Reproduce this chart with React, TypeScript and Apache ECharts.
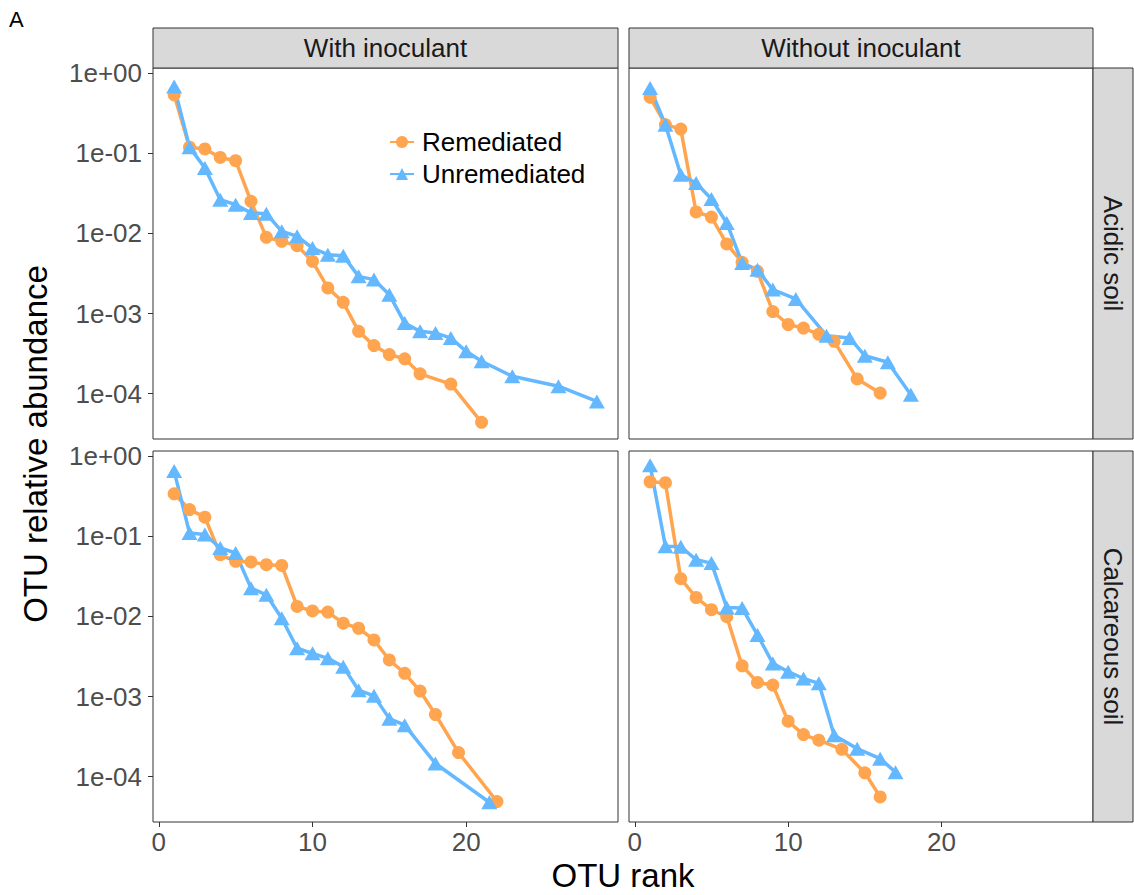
import React, { useEffect, useRef } from "react";
import * as echarts from "echarts";

// ---- Data (OTU rank, relative abundance) ----
const seriesNames = ["Remediated", "Unremediated"];
const colTitles = ["With inoculant", "Without inoculant"];
const rowTitles = ["Acidic soil", "Calcareous soil"];
const xTicks = [0, 10, 20];
const yTickExponents = [-4, -3, -2, -1, 0];

// Acidic soil, with inoculant
const acidWithRemRank = [1, 2, 3, 4, 5, 6, 7, 8, 9, 10, 11, 12, 13, 14, 15, 16, 17, 19, 21];
const acidWithRemAbund = [0.536, 0.119, 0.113, 0.0886, 0.0806, 0.0251, 0.00892, 0.00795, 0.00703, 0.00448, 0.00209, 0.00138, 0.0006, 0.000398, 0.000308, 0.000272, 0.000177, 0.000132, 0.000044];
const acidWithUnrRank = [1, 2, 3, 4, 5, 6, 7, 8, 9, 10, 11, 12, 13, 14, 15, 16, 17, 18, 19, 20, 21, 23, 26, 28.5];
const acidWithUnrAbund = [0.68, 0.119, 0.0653, 0.0263, 0.0228, 0.018, 0.0176, 0.0106, 0.0092, 0.00657, 0.00542, 0.00527, 0.00291, 0.00265, 0.00172, 0.00076, 0.0006, 0.00057, 0.000496, 0.000338, 0.000254, 0.000165, 0.000124, 0.00008];

// Acidic soil, without inoculant
const acidWithoutRemRank = [1, 2, 3, 4, 5, 6, 7, 8, 9, 10, 11, 12, 13, 14.5, 16];
const acidWithoutRemAbund = [0.5, 0.227, 0.2, 0.0185, 0.016, 0.00738, 0.00435, 0.00336, 0.00106, 0.00073, 0.00066, 0.00055, 0.00045, 0.000153, 0.000102];
const acidWithoutUnrRank = [1, 2, 3, 4, 5, 6, 7, 8, 9, 10.5, 12.5, 14, 15, 16.5, 18];
const acidWithoutUnrAbund = [0.65, 0.227, 0.054, 0.0425, 0.0268, 0.0135, 0.00428, 0.00352, 0.00199, 0.00152, 0.00053, 0.000496, 0.000298, 0.000247, 0.000097];

// Calcareous soil, with inoculant
const calcWithRemRank = [1, 2, 3, 4, 5, 6, 7, 8, 9, 10, 11, 12, 13, 14, 15, 16, 17, 18, 19.5, 22];
const calcWithRemAbund = [0.338, 0.215, 0.173, 0.0589, 0.0486, 0.0477, 0.0441, 0.0432, 0.0133, 0.0117, 0.0113, 0.00822, 0.00711, 0.00508, 0.00286, 0.00195, 0.00117, 0.000597, 0.0002, 0.000049];
const calcWithUnrRank = [1, 2, 3, 4, 5, 6, 7, 8, 9, 10, 11, 12, 13, 14, 15, 16, 18, 21.5];
const calcWithUnrAbund = [0.65, 0.11, 0.105, 0.0713, 0.0618, 0.0225, 0.0186, 0.00948, 0.004, 0.00346, 0.003, 0.00236, 0.0012, 0.00102, 0.00053, 0.000439, 0.000146, 0.000048];

// Calcareous soil, without inoculant
const calcWithoutRemRank = [1, 2, 3, 4, 5, 6, 7, 8, 9, 10, 11, 12, 13.5, 15, 16];
const calcWithoutRemAbund = [0.478, 0.465, 0.0295, 0.0172, 0.0121, 0.0099, 0.00242, 0.0015, 0.00139, 0.000492, 0.000335, 0.000285, 0.00022, 0.000112, 0.000056];
const calcWithoutUnrRank = [1, 2, 3, 4, 5, 6, 7, 8, 9, 10, 11, 12, 13, 14.5, 16, 17];
const calcWithoutUnrAbund = [0.77, 0.0748, 0.074, 0.0509, 0.0462, 0.0129, 0.0127, 0.00587, 0.00259, 0.00204, 0.00168, 0.00146, 0.000329, 0.000224, 0.000168, 0.000114];

const panels = [
  { rem: [acidWithRemRank, acidWithRemAbund], unr: [acidWithUnrRank, acidWithUnrAbund] },
  { rem: [acidWithoutRemRank, acidWithoutRemAbund], unr: [acidWithoutUnrRank, acidWithoutUnrAbund] },
  { rem: [calcWithRemRank, calcWithRemAbund], unr: [calcWithUnrRank, calcWithUnrAbund] },
  { rem: [calcWithoutRemRank, calcWithoutRemAbund], unr: [calcWithoutUnrRank, calcWithoutUnrAbund] },
];

// ---- Layout / style ----
const ORANGE = "#FFA54F";
const BLUE = "#63B8FF";
const FONT = "'Liberation Sans', Arial, Helvetica, sans-serif";
const colLeft = [153, 629];
const colWidth = [465, 464];
const rowTop = [68, 451];
const rowHeight = 371;
const X_MIN = -0.375;
const X_MAX = 29.875;
const Y_MIN = -4.565;
const Y_MAX = 0.063;

function fmtExp(v: number) {
  const e = Math.round(v);
  const sign = e < 0 ? "-" : "+";
  return "1e" + sign + String(Math.abs(e)).padStart(2, "0");
}

export default function App() {
  const ref = useRef<HTMLDivElement>(null);
  useEffect(() => {
    document.body.style.margin = "0";
    if (!ref.current) return;
    const chart = echarts.init(ref.current, null, { renderer: "svg" });

    const grids: any[] = [];
    const xAxes: any[] = [];
    const yAxes: any[] = [];
    const series: any[] = [];
    panels.forEach((p, i) => {
      const r = Math.floor(i / 2);
      const c = i % 2;
      const bottom = r === 1;
      const left = c === 0;
      grids.push({
        left: colLeft[c],
        top: rowTop[r],
        width: colWidth[c],
        height: rowHeight,
        show: true,
        backgroundColor: "#fff",
        borderColor: "#333333",
        borderWidth: 1,
        containLabel: false,
      });
      xAxes.push({
        type: "value",
        gridIndex: i,
        position: "bottom",
        min: X_MIN,
        max: X_MAX,
        axisLine: { show: false, onZero: false },
        splitLine: { show: false },
        axisTick: { show: bottom, length: 5, lineStyle: { color: "#333333", width: 1 }, customValues: xTicks },
        axisLabel: { show: bottom, customValues: xTicks, fontSize: 26, color: "#4D4D4D", margin: 7, fontFamily: FONT },
      });
      yAxes.push({
        type: "value",
        gridIndex: i,
        position: "left",
        min: Y_MIN,
        max: Y_MAX,
        axisLine: { show: false, onZero: false },
        splitLine: { show: false },
        axisTick: { show: left, length: 5, lineStyle: { color: "#333333", width: 1 }, customValues: yTickExponents },
        axisLabel: {
          show: left,
          customValues: yTickExponents,
          fontSize: 26,
          color: "#4D4D4D",
          margin: 11,
          fontFamily: FONT,
          formatter: (v: number) => fmtExp(v),
        },
      });
      const mk = (name: string, ranks: number[], vals: number[], color: string, symbol: string, size: any) => ({
        type: "line",
        name,
        xAxisIndex: i,
        yAxisIndex: i,
        data: ranks.map((rk, k) => [rk, Math.log10(vals[k])]),
        symbol,
        symbolSize: size,
        showSymbol: true,
        showAllSymbol: true,
        lineStyle: { color, width: 3.5 },
        itemStyle: { color },
        silent: true,
      });
      series.push(mk(seriesNames[0], p.rem[0], p.rem[1], ORANGE, "circle", 13));
      series.push(mk(seriesNames[1], p.unr[0], p.unr[1], BLUE, "triangle", [16, 14]));
    });

    const graphics: any[] = [];
    // top strips
    for (let c = 0; c < 2; c++) {
      graphics.push({
        type: "rect",
        shape: { x: colLeft[c], y: 28, width: colWidth[c], height: 40 },
        style: { fill: "#D9D9D9", stroke: "#333333", lineWidth: 1 },
        z: 10,
      });
      graphics.push({
        type: "text",
        x: colLeft[c] + colWidth[c] / 2,
        y: 48,
        style: { text: colTitles[c], fontSize: 26, fill: "#1A1A1A", fontFamily: FONT, align: "center", verticalAlign: "middle" },
        z: 11,
      });
    }
    // right strips
    for (let r = 0; r < 2; r++) {
      graphics.push({
        type: "rect",
        shape: { x: 1093, y: rowTop[r], width: 40, height: rowHeight },
        style: { fill: "#D9D9D9", stroke: "#333333", lineWidth: 1 },
        z: 10,
      });
      graphics.push({
        type: "text",
        x: 1113,
        y: rowTop[r] + rowHeight / 2,
        rotation: -Math.PI / 2,
        style: { text: rowTitles[r], fontSize: 26, fill: "#1A1A1A", fontFamily: FONT, align: "center", verticalAlign: "middle" },
        z: 11,
      });
    }
    graphics.push({
      type: "text",
      x: 623,
      y: 875,
      style: { text: "OTU rank", fontSize: 33, fill: "#000", fontFamily: FONT, align: "center", verticalAlign: "middle" },
    });
    graphics.push({
      type: "text",
      x: 35,
      y: 444,
      rotation: Math.PI / 2,
      style: { text: "OTU relative abundance", fontSize: 33, fill: "#000", fontFamily: FONT, align: "center", verticalAlign: "middle" },
    });
    graphics.push({
      type: "text",
      x: 9,
      y: 8,
      style: { text: "A", fontSize: 22, fill: "#000", fontFamily: FONT, align: "left", verticalAlign: "top" },
    });

    chart.setOption({
      animation: false,
      backgroundColor: "#fff",
      grid: grids,
      xAxis: xAxes,
      yAxis: yAxes,
      series,
      legend: {
        left: 384,
        top: 124,
        orient: "vertical",
        itemWidth: 24,
        itemHeight: 15,
        itemGap: 6,
        selectedMode: false,
        data: seriesNames,
        textStyle: { fontSize: 26, lineHeight: 26, color: "#000", fontFamily: FONT, padding: [0, 0, 0, 3] },
      },
      graphic: graphics,
    });
    return () => chart.dispose();
  }, []);
  return <div ref={ref} style={{ width: 1134, height: 895 }} />;
}
